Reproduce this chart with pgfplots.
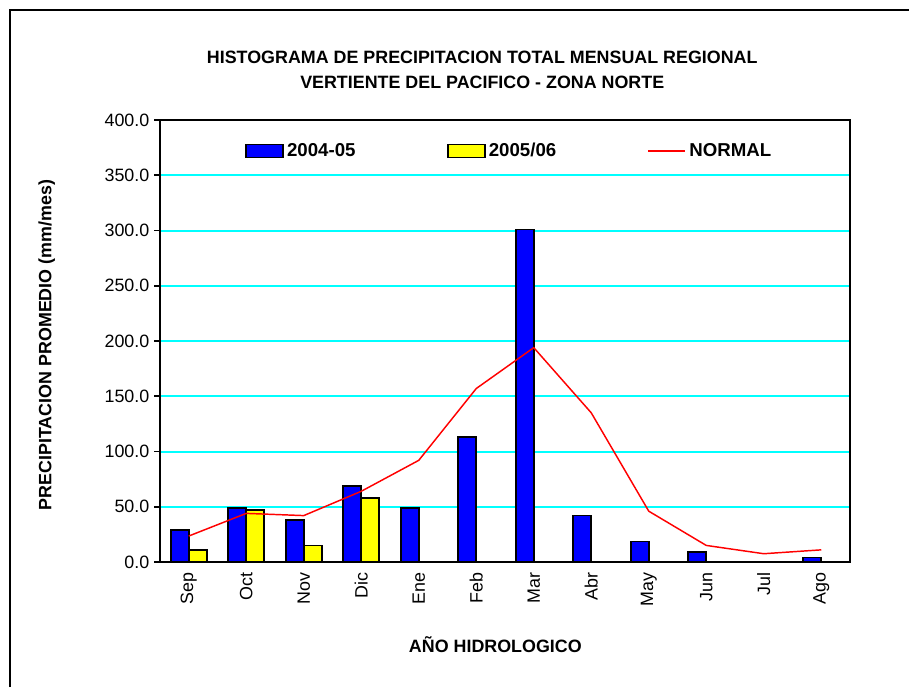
\documentclass[border=0pt]{standalone}
\usepackage{pgfplots}
\pgfplotsset{compat=1.18}
\usepackage{fontspec}
\setmainfont{Liberation Sans}
\definecolor{xlblue}{RGB}{0,0,255}
\definecolor{xlyellow}{RGB}{255,255,0}
\definecolor{xlcyan}{RGB}{0,255,255}
\definecolor{xlred}{RGB}{255,0,0}
\newcommand\f{\fontsize{13.4pt}{16pt}\selectfont}
\begin{document}
\begin{tikzpicture}
\path[use as bounding box] (0pt,0pt) rectangle (681.75pt,515.25pt);
\draw[line width=1.5pt] (7.5pt,0pt) -- (7.5pt,507.75pt) -- (681.75pt,507.75pt);
\begin{axis}[
  at={(120pt,93.75pt)}, anchor=south west,
  scale only axis, width=517.5pt, height=331.5pt,
  xmin=0, xmax=12, ymin=0, ymax=400,
  axis line style={line width=1.5pt, black},
  tick align=outside,
  tick pos=left,
  xtick={0.5,1.5,...,11.5},
  xticklabels={Sep,Oct,Nov,Dic,Ene,Feb,Mar,Abr,May,Jun,Jul,Ago},
  xtick style={draw=none},
  minor xtick={0,1,...,12},
  minor x tick style={line width=1.2pt, black},
  minor tick length=4.5pt,
  major tick length=4.5pt,
  ytick={0,50,...,400},
  ytick style={line width=1.2pt, black},
  x tick label style={rotate=90, anchor=east, font=\f},
  y tick label style={font=\f},
  yticklabel style={/pgf/number format/.cd, fixed, fixed zerofill, precision=1, assume math mode=true},
  ymajorgrids,
  major grid style={xlcyan, line width=1.5pt},
  title={HISTOGRAMA DE PRECIPITACION TOTAL MENSUAL REGIONAL\\VERTIENTE DEL PACIFICO - ZONA NORTE},
  title style={at={(axis description cs:0.467,1.095)}, anchor=center, align=center, font=\bfseries\fontsize{13.4pt}{18.75pt}\selectfont},
  xlabel={AÑO HIDROLOGICO},
  xlabel style={at={(axis description cs:0.486,-0.188)}, anchor=center, font=\bfseries\f},
  ylabel={PRECIPITACION PROMEDIO (mm/mes)},
  ylabel style={at={(axis description cs:-0.164,0.491)}, anchor=center, font=\bfseries\f},
  legend columns=3,
  legend style={draw=none, fill=none, at={(axis description cs:0.123,0.930)}, anchor=west, inner sep=0pt,
    font=\bfseries\fontsize{14pt}{16pt}\selectfont,
    nodes={inner sep=2.5pt},
    /tikz/every even column/.append style={column sep=66pt}},
]
\addplot[ybar, bar width=13.5pt, bar shift=-6.75pt, fill=xlblue, draw=black, line width=1.2pt,
  legend image code/.code={\draw[fill=xlblue, draw=black, line width=1.2pt] (0pt,-4.8pt) rectangle (27.75pt,4.8pt);}]
  coordinates {(0.5,29) (1.5,49) (2.5,38) (3.5,69) (4.5,49) (5.5,113) (6.5,301) (7.5,42) (8.5,18.4) (9.5,9.3) (11.5,3.9)};
\addlegendentry{2004-05}
\addplot[ybar, bar width=13.5pt, bar shift=6.75pt, fill=xlyellow, draw=black, line width=1.2pt,
  legend image code/.code={\draw[fill=xlyellow, draw=black, line width=1.2pt] (0pt,-4.8pt) rectangle (27.75pt,4.8pt);}]
  coordinates {(0.5,10.9) (1.5,47) (2.5,14.8) (3.5,58)};
\addlegendentry{2005/06}
\addplot[xlred, line width=1.1pt, mark=none,
  legend image code/.code={\draw[xlred, line width=1.1pt] (0pt,0pt) -- (27.75pt,0pt);}]
  coordinates {(0.5,23.5) (1.5,44) (2.5,42) (3.5,64) (4.5,92) (5.5,157) (6.5,194) (7.5,135) (8.5,46) (9.5,15) (10.5,7.5) (11.5,11)};
\addlegendentry{NORMAL}
\end{axis}
\end{tikzpicture}
\end{document}
